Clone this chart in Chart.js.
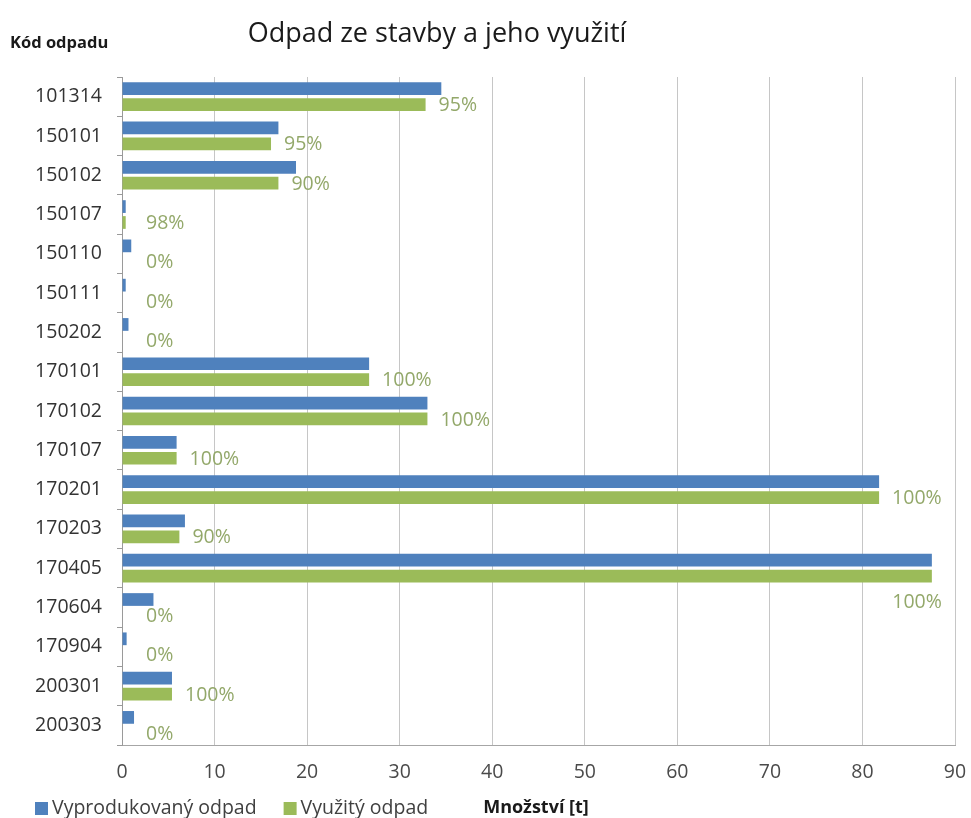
<!DOCTYPE html>
<html>
<head>
<meta charset="utf-8">
<script src="https://cdn.jsdelivr.net/npm/chart.js@4"></script>
<style>
  html, body { margin: 0; padding: 0; background: #fff; overflow: hidden; }
  canvas { display: block; }
</style>
</head>
<body>
<canvas id="chart" width="971" height="818"></canvas>
<script>
// waste codes and amounts in tonnes
const codes = ['101314', '150101', '150102', '150107', '150110', '150111', '150202',
  '170101', '170102', '170107', '170201', '170203', '170405', '170604', '170904',
  '200301', '200303'];
const produced = [34.5, 16.9, 18.8, 0.4, 1.0, 0.4, 0.7, 26.7, 33.0, 5.9, 81.8, 6.8, 87.5, 3.4, 0.5, 5.4, 1.3];
const used = [32.8, 16.1, 16.9, 0.4, 0, 0, 0, 26.7, 33.0, 5.9, 81.8, 6.2, 87.5, 0, 0, 5.4, 0];
const usedShare = ['95%', '95%', '90%', '98%', '0%', '0%', '0%', '100%', '100%', '100%',
  '100%', '90%', '100%', '0%', '0%', '100%', '0%'];
const xMin = 0, xMax = 90, xStep = 10;

const ctx = document.getElementById('chart').getContext('2d');

// percentage of reuse written next to each green bar
const shareLabels = {
  id: 'shareLabels',
  afterDatasetsDraw(chart) {
    const { ctx, chartArea } = chart;
    const meta = chart.getDatasetMeta(1);
    ctx.save();
    ctx.font = '19.5px "Open Sans"';
    ctx.fillStyle = '#93a86a';
    ctx.textBaseline = 'middle';
    meta.data.forEach((bar, i) => {
      const text = usedShare[i];
      const w = ctx.measureText(text).width;
      let x = Math.max(bar.x + 13, chartArea.left + 24);
      let y = bar.y + 1;
      if (x + w > chartArea.right - 8) {
        // no room on the right, put it under the bar end
        ctx.textAlign = 'right';
        x = bar.x + 10;
        y = bar.y + bar.height / 2 + 20;
      } else {
        ctx.textAlign = 'left';
      }
      ctx.fillText(text, x, y);
    });
    ctx.restore();
  }
};

// title, y axis caption, legend and x axis caption along the bottom row
const captions = {
  id: 'captions',
  afterDraw(chart) {
    const { ctx } = chart;
    ctx.save();
    ctx.fillStyle = '#1a1a1a';
    ctx.textBaseline = 'alphabetic';
    ctx.textAlign = 'center';
    ctx.font = '27px "Open Sans"';
    ctx.fillText('Odpad ze stavby a jeho využití', 437, 42);
    ctx.textAlign = 'left';
    ctx.font = 'bold 16.5px "Open Sans"';
    ctx.fillText('Kód odpadu', 10, 48);

    const base = 814;
    let x = 35;
    ctx.font = '19.5px "Open Sans"';
    chart.data.datasets.forEach(ds => {
      ctx.fillStyle = ds.backgroundColor;
      ctx.fillRect(x, base - 12, 13, 13);
      ctx.fillStyle = '#404040';
      ctx.fillText(ds.label, x + 17, base);
      x += 17 + ctx.measureText(ds.label).width + 27;
    });
    ctx.fillStyle = '#1a1a1a';
    ctx.font = 'bold 18px "Open Sans"';
    ctx.fillText('Množství [t]', x + 28, base - 1);
    ctx.restore();
  }
};

new Chart(ctx, {
  type: 'bar',
  data: {
    labels: codes,
    datasets: [{
      label: 'Vyprodukovaný odpad',
      data: produced,
      backgroundColor: '#4f81bd',
      categoryPercentage: 0.81,
      barPercentage: 0.8
    },
    {
      label: 'Využitý odpad',
      data: used,
      backgroundColor: '#9bbb59',
      categoryPercentage: 0.81,
      barPercentage: 0.8
    }]
  },
  options: {
    indexAxis: 'y',
    responsive: false,
    animation: false,
    layout: { padding: { top: 77, left: 7, right: 16, bottom: 34 } },
    plugins: {
      title: { display: false },
      tooltip: { enabled: false },
      legend: { display: false }
    },
    scales: {
      x: {
        min: xMin,
        max: xMax,
        afterFit(scale) {
          scale.height = 39;
          scale.paddingRight = 0;
        },
        ticks: {
          stepSize: xStep,
          padding: 16,
          color: '#4a4a4a',
          font: { family: '"Open Sans"', size: 19.5 }
        },
        grid: { color: '#c6c6c6', drawTicks: false },
        border: { color: '#a6a6a6' }
      },
      y: {
        afterFit(scale) { scale.width = 115; },
        ticks: {
          padding: 15,
          color: '#333333',
          font: { family: '"Open Sans"', size: 19.5 }
        },
        grid: { drawOnChartArea: false, tickLength: 5, color: '#9a9a9a' },
        border: { color: '#9a9a9a' }
      }
    }
  },
  plugins: [shareLabels, captions]
});
</script>
</body>
</html>
